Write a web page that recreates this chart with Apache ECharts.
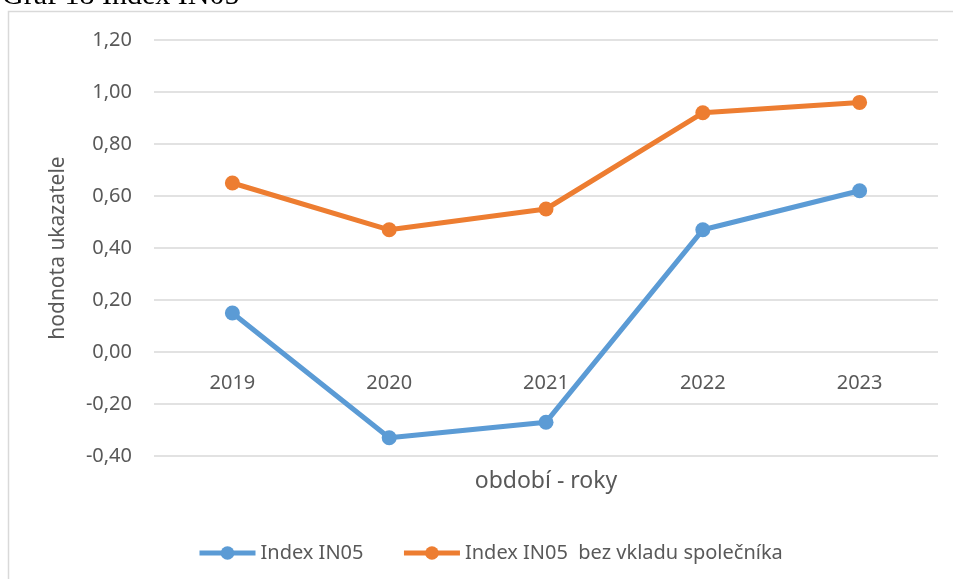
<!DOCTYPE html>
<html>
<head>
<meta charset="utf-8">
<script src="https://cdn.jsdelivr.net/npm/echarts@6/dist/echarts.min.js"></script>
<style>
  html, body { margin: 0; padding: 0; background: #fff; }
  #main { width: 953px; height: 579px; }
</style>
</head>
<body>
<div id="main"></div>
<script>
// data
var years = ['2019', '2020', '2021', '2022', '2023'];
var in05 = [0.15, -0.33, -0.27, 0.47, 0.62];
var in05BezVkladu = [0.65, 0.47, 0.55, 0.92, 0.96];

var myChart = echarts.init(document.getElementById('main'));
var font = 'Noto Sans';

var option = {
    animation: false,
    graphic: [
        {
            type: 'rect',
            shape: { x: 8.5, y: 11.5, width: 1200, height: 1200 },
            style: { fill: 'none', stroke: '#d9d9d9', lineWidth: 1.5 }
        },
        {
            type: 'text',
            left: 2,
            top: -19,
            style: { text: 'Graf 18 Index IN05', font: '30px "Liberation Serif"', fill: '#000' }
        }
    ],
    grid: { left: 154, right: 15, top: 40, bottom: 123, outerBoundsMode: 'none' },
    legend: {
        left: 192,
        top: 538,
        itemWidth: 56,
        itemHeight: 17,
        itemGap: 38,
        lineStyle: { width: 5 },
        textStyle: { fontFamily: font, fontSize: 20, color: '#595959' },
        data: ['Index IN05', 'Index IN05  bez vkladu společníka']
    },
    xAxis: {
        type: 'category',
        data: years,
        position: 'bottom',
        offset: -104,
        name: 'období - roky',
        nameLocation: 'middle',
        nameGap: 118,
        nameTextStyle: { fontFamily: font, fontSize: 23, color: '#595959' },
        axisLine: { show: false, onZero: false },
        axisTick: { show: false },
        axisLabel: { fontFamily: font, fontSize: 20, color: '#595959', margin: 21 }
    },
    yAxis: {
        type: 'value',
        min: -0.4,
        max: 1.2,
        interval: 0.2,
        name: 'hodnota ukazatele',
        nameLocation: 'middle',
        nameGap: 85,
        nameTextStyle: { fontFamily: font, fontSize: 21, color: '#595959' },
        axisLine: { show: false },
        axisTick: { show: false },
        splitLine: { lineStyle: { color: '#d9d9d9', width: 1.5 } },
        axisLabel: {
            fontFamily: font, fontSize: 20, color: '#595959', margin: 22,
            formatter: function (v) { return v.toFixed(2).replace('.', ','); }
        }
    },
    series: [
        {
            name: 'Index IN05',
            type: 'line',
            data: in05,
            color: '#5b9bd5',
            symbol: 'circle',
            symbolSize: 15,
            lineStyle: { width: 5 }
        },
        {
            name: 'Index IN05  bez vkladu společníka',
            type: 'line',
            data: in05BezVkladu,
            color: '#ed7d31',
            symbol: 'circle',
            symbolSize: 15,
            lineStyle: { width: 5 }
        }
    ]
};
myChart.setOption(option);
</script>
</body>
</html>
